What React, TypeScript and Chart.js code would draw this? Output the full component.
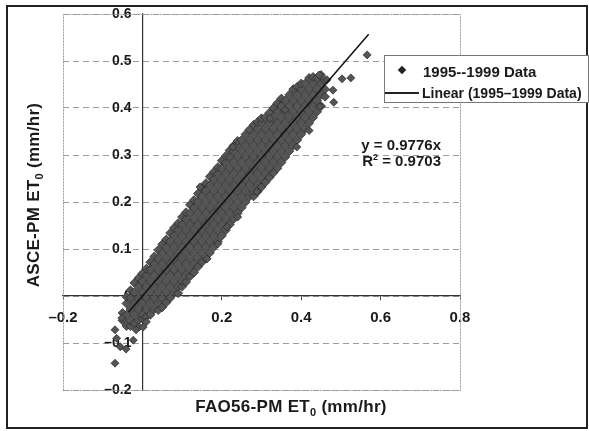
import React, { useEffect, useRef } from 'react';
import { Chart, registerables } from 'chart.js';
Chart.register(...registerables);

const xTicks = [-0.2, 0, 0.2, 0.4, 0.6, 0.8];
const yTicks = [-0.2, -0.1, 0, 0.1, 0.2, 0.3, 0.4, 0.5, 0.6];

// columns of the dense point cloud: [FAO56-PM ET0, [ASCE-PM ET0 values]]
const cloudLow: [number, number[]][] = [
  [-0.05, [-0.052, -0.036]],
  [-0.04, [-0.064, -0.04, -0.016, -0.002]],
  [-0.03, [-0.064, -0.052, -0.028, -0.004, 0.012]],
  [-0.02, [-0.058, -0.04, -0.016, 0.008, 0.028]],
  [-0.01, [-0.052, -0.028, -0.004, 0.02, 0.038]],
  [0.0, [-0.048, -0.04, -0.016, 0.008, 0.032, 0.048]],
  [0.01, [-0.044, -0.028, -0.004, 0.02, 0.044, 0.058]],
  [0.02, [-0.04, -0.016, 0.008, 0.032, 0.056, 0.072]],
  [0.03, [-0.028, -0.004, 0.02, 0.044, 0.068, 0.084]],
  [0.04, [-0.03, -0.016, 0.008, 0.032, 0.056, 0.08, 0.098]],
  [0.05, [-0.024, -0.004, 0.02, 0.044, 0.068, 0.092, 0.11]],
  [0.06, [-0.014, 0.008, 0.032, 0.056, 0.08, 0.104, 0.12]],
  [0.07, [-0.004, 0.02, 0.044, 0.068, 0.092, 0.116, 0.134]],
  [0.08, [0.008, 0.032, 0.056, 0.08, 0.104, 0.128, 0.145]],
  [0.09, [0.006, 0.02, 0.044, 0.068, 0.092, 0.116, 0.14, 0.155]],
  [0.1, [0.02, 0.032, 0.056, 0.08, 0.104, 0.128, 0.152, 0.168]],
];
const cloudMid: [number, number[]][] = [
  [0.11, [0.03, 0.044, 0.068, 0.092, 0.116, 0.14, 0.164, 0.178]],
  [0.12, [0.042, 0.056, 0.08, 0.104, 0.128, 0.152, 0.176, 0.194]],
  [0.13, [0.05, 0.068, 0.092, 0.116, 0.14, 0.164, 0.188, 0.204]],
  [0.14, [0.062, 0.08, 0.104, 0.128, 0.152, 0.176, 0.2, 0.218]],
  [0.15, [0.072, 0.092, 0.116, 0.14, 0.164, 0.188, 0.212, 0.23]],
  [0.16, [0.08, 0.104, 0.128, 0.152, 0.176, 0.2, 0.224, 0.24]],
  [0.17, [0.092, 0.116, 0.14, 0.164, 0.188, 0.212, 0.236, 0.254]],
  [0.18, [0.104, 0.128, 0.152, 0.176, 0.2, 0.224, 0.248, 0.264]],
  [0.19, [0.116, 0.14, 0.164, 0.188, 0.212, 0.236, 0.26, 0.274]],
  [0.2, [0.128, 0.152, 0.176, 0.2, 0.224, 0.248, 0.272, 0.288]],
  [0.21, [0.14, 0.164, 0.188, 0.212, 0.236, 0.26, 0.284, 0.298]],
  [0.22, [0.152, 0.176, 0.2, 0.224, 0.248, 0.272, 0.296, 0.31]],
  [0.23, [0.164, 0.188, 0.212, 0.236, 0.26, 0.284, 0.308, 0.32]],
  [0.24, [0.176, 0.2, 0.224, 0.248, 0.272, 0.296, 0.32, 0.33]],
  [0.25, [0.188, 0.212, 0.236, 0.26, 0.284, 0.308, 0.332]],
  [0.26, [0.2, 0.224, 0.248, 0.272, 0.296, 0.32, 0.344]],
  [0.27, [0.212, 0.236, 0.26, 0.284, 0.308, 0.332, 0.354]],
  [0.28, [0.212, 0.224, 0.248, 0.272, 0.296, 0.32, 0.344, 0.364]],
  [0.29, [0.222, 0.236, 0.26, 0.284, 0.308, 0.332, 0.356, 0.37]],
  [0.3, [0.232, 0.248, 0.272, 0.296, 0.32, 0.344, 0.368, 0.378]],
];
const cloudHigh: [number, number[]][] = [
  [0.31, [0.242, 0.26, 0.284, 0.308, 0.332, 0.356, 0.38]],
  [0.32, [0.252, 0.272, 0.296, 0.32, 0.344, 0.368, 0.39]],
  [0.33, [0.262, 0.284, 0.308, 0.332, 0.356, 0.38, 0.4]],
  [0.34, [0.272, 0.296, 0.32, 0.344, 0.368, 0.392, 0.41]],
  [0.35, [0.284, 0.308, 0.332, 0.356, 0.38, 0.404, 0.42]],
  [0.36, [0.296, 0.32, 0.344, 0.368, 0.392, 0.416]],
  [0.37, [0.308, 0.332, 0.356, 0.38, 0.404, 0.428]],
  [0.38, [0.32, 0.344, 0.368, 0.392, 0.416, 0.44]],
  [0.39, [0.332, 0.356, 0.38, 0.404, 0.428, 0.445]],
  [0.4, [0.344, 0.368, 0.392, 0.416, 0.44, 0.452]],
  [0.41, [0.356, 0.38, 0.404, 0.428, 0.452]],
  [0.42, [0.368, 0.392, 0.416, 0.44, 0.464]],
  [0.43, [0.38, 0.404, 0.428, 0.452, 0.466]],
  [0.44, [0.392, 0.416, 0.44, 0.464]],
  [0.45, [0.404, 0.428, 0.452, 0.47]],
  [0.46, [0.424, 0.44, 0.458]],
];
const outliers: [number, number][] = [
  [-0.069, -0.143], [-0.065, -0.09], [-0.069, -0.072], [-0.056, -0.108],
  [-0.041, -0.113], [-0.023, -0.094], [-0.052, -0.047], [-0.008, -0.066],
  [0.002, -0.066], [-0.016, -0.072], [0.01, -0.055], [0.163, 0.079],
  [0.19, 0.111], [0.213, 0.147], [0.24, 0.168], [0.288, 0.222],
  [0.389, 0.317], [0.42, 0.352], [0.447, 0.403], [0.482, 0.412],
  [0.48, 0.438], [0.445, 0.47], [0.465, 0.46], [0.503, 0.462],
  [0.525, 0.464], [0.566, 0.513], [0.228, 0.317], [0.145, 0.232],
  [0.359, 0.396], [0.321, 0.378],
];
const trendX = [-0.035, 0.57];
const trendY = [-0.034, 0.557];

const fmt = (v: number) => {
  const r = Math.round(v * 10) / 10;
  if (r === 0) return '0';
  return (r < 0 ? '\u2013' : '') + Math.abs(r).toFixed(1);
};

const FONT = '"Liberation Sans", Arial, sans-serif';

export default function App() {
  const ref = useRef<HTMLCanvasElement>(null);
  useEffect(() => {
    const columns = [...cloudLow, ...cloudMid, ...cloudHigh];
    const points = columns.flatMap(([x, ys]) => ys.map((y) => ({ x, y })));
    const cloudCount = points.length;
    outliers.forEach(([x, y]) => points.push({ x, y }));
    const trend = trendX.map((x, i) => ({ x, y: trendY[i] }));

    const frame = {
      id: 'plotFrame',
      beforeDatasetsDraw(chart: any) {
        const { ctx, chartArea: a } = chart;
        ctx.save();
        ctx.strokeStyle = '#9a9a9a';
        ctx.lineWidth = 1;
        ctx.setLineDash([2, 1]);
        ctx.strokeRect(Math.round(a.left) + 0.5, Math.round(a.top) + 0.5, Math.round(a.width), Math.round(a.height));
        ctx.restore();
      },
    };

    const chart = new Chart(ref.current!, {
      type: 'scatter',
      data: {
        datasets: [
          {
            label: 'Linear (1995\u20131999 Data)',
            type: 'line',
            data: trend,
            borderColor: '#111',
            borderWidth: 1.5,
            pointRadius: 0,
            fill: false,
            order: 0,
          } as any,
          {
            label: '1995--1999 Data',
            data: points,
            pointStyle: 'rectRot',
            pointRadius: (c: any) => (c.dataIndex < cloudCount ? 4.5 : 4),
            pointBackgroundColor: '#555555',
            pointBorderColor: '#262626',
            pointBorderWidth: 0.7,
            order: 1,
          },
        ],
      },
      options: {
        animation: false,
        responsive: false,
        layout: { padding: { left: 63, top: 14, right: 129, bottom: 41 } },
        plugins: { legend: { display: false }, tooltip: { enabled: false } },
        scales: {
          x: {
            type: 'linear',
            min: -0.2,
            max: 0.8,
            position: { y: 0 } as any,
            afterBuildTicks: (s: any) => { s.ticks = xTicks.map((value) => ({ value })); },
            grid: { display: true, drawOnChartArea: false, tickLength: 4, color: '#444' },
            border: { display: true, color: '#333', width: 1.2 },
            ticks: {
              callback: (v: any) => fmt(Number(v)),
              color: '#1a1a1a',
              padding: 9,
              maxRotation: 0,
              font: { family: FONT, size: 15, weight: 'bold' },
            },
          },
          y: {
            type: 'linear',
            min: -0.2,
            max: 0.6,
            position: { x: 0 } as any,
            afterBuildTicks: (s: any) => { s.ticks = yTicks.map((value) => ({ value })); },
            grid: {
              display: true,
              drawTicks: false,
              color: '#9c9c9c',
            } as any,
            border: { display: true, color: '#333', width: 1.2, dash: [6, 4] } as any,
            ticks: {
              // keep a gap between the label and the axis line
              callback: (v: any) => fmt(Number(v)) + '\u2002 ',
              color: '#1a1a1a',
              padding: 0,
              font: { family: FONT, size: 14, weight: 'bold' },
            },
          },
        },
      },
      plugins: [frame],
    });
    return () => chart.destroy();
  }, []);

  const txt: React.CSSProperties = { position: 'absolute', fontFamily: FONT, fontWeight: 'bold', color: '#1a1a1a', whiteSpace: 'nowrap', lineHeight: 1 };
  return (
    <div style={{ position: 'fixed', left: 0, top: 0, width: 589, height: 431, background: '#fff', overflow: 'hidden' }}>
      <canvas ref={ref} width={589} height={431} style={{ position: 'absolute', left: 0, top: 0, width: 589, height: 431 }} />
      <div style={{ position: 'absolute', left: 6, top: 5, width: 582, height: 424, border: '2px solid #222', boxSizing: 'border-box', pointerEvents: 'none' }} />
      <div style={{ ...txt, fontSize: 17, letterSpacing: 0.3, left: 35, top: 195, transform: 'translate(-50%,-50%) rotate(-90deg)' }}>
        ASCE-PM ET<sub style={{ fontSize: 11 }}>0</sub> (mm/hr)
      </div>
      <div style={{ ...txt, fontSize: 17, letterSpacing: 0.3, left: 291, top: 408, transform: 'translate(-50%,-50%)' }}>
        FAO56-PM ET<sub style={{ fontSize: 11 }}>0</sub> (mm/hr)
      </div>
      <div style={{ position: 'absolute', left: 384, top: 55, width: 205, height: 48, border: '1px solid #777', background: '#fff', boxSizing: 'border-box' }} />
      <div style={{ position: 'absolute', left: 399, top: 67, width: 6, height: 6, background: '#222', transform: 'rotate(45deg)' }} />
      <div style={{ ...txt, fontSize: 15, left: 423, top: 64 }}>1995--1999 Data</div>
      <div style={{ position: 'absolute', left: 385, top: 92, width: 34, height: 2, background: '#222' }} />
      <div style={{ ...txt, fontSize: 14, left: 422, top: 86 }}>{'Linear (1995\u20131999 Data)'}</div>
      <div style={{ ...txt, fontSize: 15, left: 441, top: 137, transform: 'translateX(-100%)' }}>y = 0.9776x</div>
      <div style={{ ...txt, fontSize: 15, left: 441, top: 153, transform: 'translateX(-100%)' }}>
        R<sup style={{ fontSize: 9, verticalAlign: 'top' }}>2</sup> = 0.9703
      </div>
    </div>
  );
}
